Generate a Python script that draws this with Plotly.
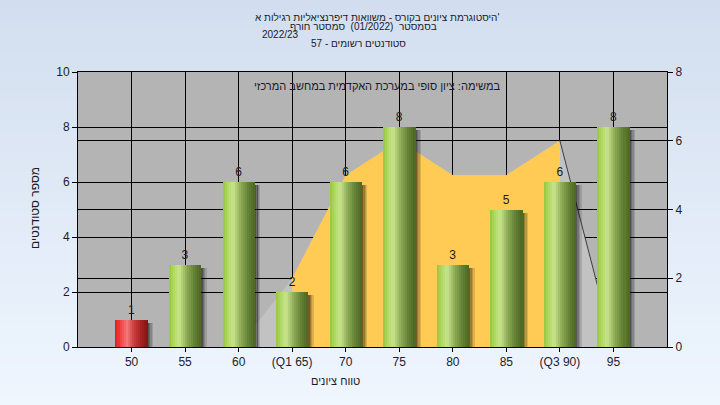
import numpy as np
import plotly.graph_objects as go

# ---------------- data ----------------
categories = ["50", "55", "60", "(Q1 65)", "70", "75", "80", "85", "(Q3 90)", "95"]
student_counts = [1, 3, 6, 2, 6, 8, 3, 5, 6, 8]          # left axis (bars)
area_values = [0, 0, 0, 2, 5, 6, 5, 5, 6, 0]             # right axis (area)
q1_label = "(Q1 65)"
q3_label = "(Q3 90)"
failing_categories = ["50"]

title_row1 = "'היסטוגרמת ציונים בקורס - משוואות דיפרנציאליות רגילות א"
title_row2 = "בסמסטר  (01/2022)  סמסטר חורף"
title_row3 = "2022/23"
title_row4 = "סטודנטים רשומים - 57"
note_text = "במשימה: ציון סופי במערכת האקדמית במחשב המרכזי"
x_title = "טווח ציונים"
y_title = "מספר סטודנטים"

left_ticks = [0, 2, 4, 6, 8, 10]
right_ticks = [0, 2, 4, 6, 8]

# ---------------- layout geometry ----------------
W, H = 720, 405
L, R, T, B = 78, 53, 72, 58
PW, PH = W - L - R, H - T - B
FONT = "Liberation Sans, Arial, DejaVu Sans, sans-serif"


def px(x):
    return (x - L) / PW


def py(y):
    return (H - B - y) / PH


def rtl(s):
    return "\u202b" + s + "\u202c"


def interp_color(stops, t):
    ts = [s[0] for s in stops]
    rgb = [int(round(np.interp(t, ts, [s[1][k] for s in stops]))) for k in range(3)]
    return "rgb(%d,%d,%d)" % tuple(rgb)


green_stops = [(0.00, (150, 198, 60)), (0.12, (172, 214, 92)), (0.32, (202, 228, 142)),
               (0.55, (142, 172, 86)), (0.80, (98, 128, 52)), (1.00, (76, 102, 34))]
red_stops = [(0.00, (228, 22, 22)), (0.12, (238, 60, 60)), (0.35, (242, 122, 122)),
             (0.55, (206, 62, 62)), (0.80, (160, 32, 32)), (1.00, (128, 20, 20))]

fig = go.Figure()

# ---------------- area (right axis) ----------------
i1 = categories.index(q1_label)
i3 = categories.index(q3_label)
fig.add_trace(go.Scatter(x=categories, y=area_values, mode="lines", fill="tozeroy",
                         fillcolor="#C2C2C2", line=dict(width=0), yaxis="y",
                         hoverinfo="skip", showlegend=False))
fig.add_trace(go.Scatter(x=categories[i1:i3 + 1], y=area_values[i1:i3 + 1], mode="lines",
                         fill="tozeroy", fillcolor="#FFCB55", line=dict(width=0),
                         yaxis="y", hoverinfo="skip", showlegend=False))
fig.add_trace(go.Scatter(x=categories[i3:], y=area_values[i3:], mode="lines",
                         line=dict(color="#3c3c3c", width=1), yaxis="y",
                         hoverinfo="skip", showlegend=False))

# ---------------- bars (left axis) ----------------
BW = 0.6
shadow_drop = 0.12
shadow_alphas = [0.55, 0.4, 0.26, 0.13]
sw = 0.026
shadow_y = [v - shadow_drop for v in student_counts]
for k, a in enumerate(shadow_alphas):
    fig.add_trace(go.Bar(x=categories, y=shadow_y, width=sw * 1.05,
                         offset=BW / 2 + k * sw, yaxis="y2",
                         marker=dict(color="rgba(0,0,0,%.2f)" % a, line=dict(width=0)),
                         hoverinfo="skip", showlegend=False))

N = 16
for i in range(N):
    t = (i + 0.5) / N
    cols = [interp_color(red_stops if c in failing_categories else green_stops, t)
            for c in categories]
    fig.add_trace(go.Bar(x=categories, y=student_counts, width=BW / N * 1.08,
                         offset=-BW / 2 + i * BW / N, yaxis="y2",
                         marker=dict(color=cols, line=dict(width=0)),
                         hoverinfo="skip", showlegend=False))

# value labels
fig.add_trace(go.Bar(x=categories, y=student_counts, width=BW, yaxis="y2",
                     marker=dict(color="rgba(0,0,0,0)", line=dict(width=0)),
                     text=[str(v) for v in student_counts], textposition="outside",
                     textfont=dict(size=12, color="#1a1a1a", family=FONT),
                     cliponaxis=False, hoverinfo="skip", showlegend=False))

# ---------------- background gradient ----------------
shapes = []
NB = 40
top_c, bot_c = (210, 222, 239), (239, 246, 254)
for k in range(NB):
    y0 = H * k / NB
    y1 = H * (k + 1) / NB + 0.6
    t = (k + 0.5) / NB
    c = tuple(int(round(top_c[j] + (bot_c[j] - top_c[j]) * t)) for j in range(3))
    shapes.append(dict(type="rect", xref="paper", yref="paper", x0=px(0), x1=px(W),
                       y0=py(y1), y1=py(y0), fillcolor="rgb(%d,%d,%d)" % c,
                       line=dict(width=0), layer="below"))
shapes.append(dict(type="rect", xref="x domain", yref="y domain", x0=0, x1=1, y0=0, y1=1,
                   fillcolor="#B4B4B4", line=dict(width=0), layer="below"))

# ---------------- annotations ----------------
ann = []


def add_text(text, x, y, size=10, angle=0):
    ann.append(dict(text=rtl(text), x=px(x), y=py(y), xref="paper", yref="paper",
                    showarrow=False, xanchor="center", yanchor="middle", textangle=angle,
                    font=dict(size=size, color="#1a1a2a", family=FONT)))


add_text(title_row1, 377, 17)
add_text(title_row2, 363, 26)
add_text(title_row3, 280, 34)
add_text(title_row4, 358, 43)
add_text(note_text, 377, 86, size=11)
add_text(x_title, 335, 381, size=11)
add_text(y_title, 35, 208, size=12, angle=-90)

axis_common = dict(showline=True, linecolor="black", linewidth=1, ticks="outside",
                   ticklen=5, tickcolor="black", showgrid=True, gridcolor="black",
                   gridwidth=1, zeroline=False,
                   tickfont=dict(size=12, color="#1c1c2c", family=FONT))

fig.update_layout(
    width=W, height=H,
    margin=dict(l=L, r=R, t=T, b=B, pad=0),
    paper_bgcolor="#DDE8F6",
    plot_bgcolor="#B4B4B4",
    barmode="overlay",
    bargap=0,
    showlegend=False,
    hovermode=False,
    shapes=shapes,
    annotations=ann,
    font=dict(family=FONT),
    xaxis=dict(type="category", categoryorder="array", categoryarray=categories,
               range=[-1, len(categories)], mirror=True, **{**axis_common, "ticklen": 4}),
    yaxis=dict(side="right", range=[0, 8], tickvals=right_ticks, **axis_common),
    yaxis2=dict(side="left", overlaying="y", range=[0, 10], tickvals=left_ticks,
                **axis_common),
)

fig.write_html("out.html",
               config={"displayModeBar": False, "staticPlot": True},
               post_script="document.body.style.margin='0';document.body.style.overflow='hidden';")
